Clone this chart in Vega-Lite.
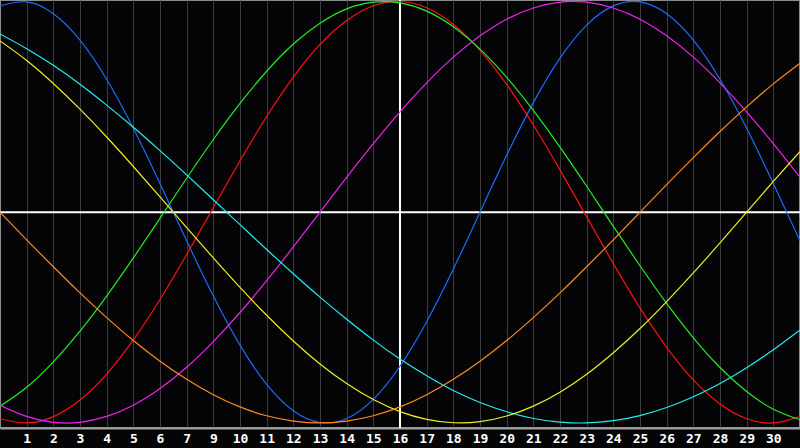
{
  "$schema": "https://vega.github.io/schema/vega-lite/v6.json",
  "width": 800,
  "height": 428,
  "autosize": {"type": "none"},
  "padding": {"left": 0, "top": 0, "right": 0, "bottom": 20},
  "background": "#050508",
  "datasets": {
    "cycles": [
      {"cycle": "physical", "x": 0, "value": 97.9}, {"cycle": "physical", "x": 1, "value": 99.8}, {"cycle": "physical", "x": 2, "value": 94.2}, {"cycle": "physical", "x": 3, "value": 81.7}, {"cycle": "physical", "x": 4, "value": 63.1}, {"cycle": "physical", "x": 5, "value": 39.8}, {"cycle": "physical", "x": 6, "value": 13.6}, {"cycle": "physical", "x": 7, "value": -13.6}, {"cycle": "physical", "x": 8, "value": -39.8}, {"cycle": "physical", "x": 9, "value": -63.1}, {"cycle": "physical", "x": 10, "value": -81.7}, {"cycle": "physical", "x": 11, "value": -94.2}, {"cycle": "physical", "x": 12, "value": -99.8}, {"cycle": "physical", "x": 13, "value": -97.9}, {"cycle": "physical", "x": 14, "value": -88.8}, {"cycle": "physical", "x": 15, "value": -73.1}, {"cycle": "physical", "x": 16, "value": -52.0}, {"cycle": "physical", "x": 17, "value": -27.0}, {"cycle": "physical", "x": 18, "value": 0}, {"cycle": "physical", "x": 19, "value": 27.0}, {"cycle": "physical", "x": 20, "value": 52.0}, {"cycle": "physical", "x": 21, "value": 73.1}, {"cycle": "physical", "x": 22, "value": 88.8}, {"cycle": "physical", "x": 23, "value": 97.9}, {"cycle": "physical", "x": 24, "value": 99.8}, {"cycle": "physical", "x": 25, "value": 94.2}, {"cycle": "physical", "x": 26, "value": 81.7}, {"cycle": "physical", "x": 27, "value": 63.1}, {"cycle": "physical", "x": 28, "value": 39.8}, {"cycle": "physical", "x": 29, "value": 13.6}, {"cycle": "physical", "x": 30, "value": -13.6},
      {"cycle": "emotional", "x": 0, "value": -98.0}, {"cycle": "emotional", "x": 1, "value": -100.0}, {"cycle": "emotional", "x": 2, "value": -97.0}, {"cycle": "emotional", "x": 3, "value": -89.1}, {"cycle": "emotional", "x": 4, "value": -76.8}, {"cycle": "emotional", "x": 5, "value": -60.6}, {"cycle": "emotional", "x": 6, "value": -41.4}, {"cycle": "emotional", "x": 7, "value": -20.1}, {"cycle": "emotional", "x": 8, "value": 2.2}, {"cycle": "emotional", "x": 9, "value": 24.4}, {"cycle": "emotional", "x": 10, "value": 45.4}, {"cycle": "emotional", "x": 11, "value": 64.1}, {"cycle": "emotional", "x": 12, "value": 79.6}, {"cycle": "emotional", "x": 13, "value": 91.0}, {"cycle": "emotional", "x": 14, "value": 98.0}, {"cycle": "emotional", "x": 15, "value": 100.0}, {"cycle": "emotional", "x": 16, "value": 97.0}, {"cycle": "emotional", "x": 17, "value": 89.1}, {"cycle": "emotional", "x": 18, "value": 76.8}, {"cycle": "emotional", "x": 19, "value": 60.6}, {"cycle": "emotional", "x": 20, "value": 41.4}, {"cycle": "emotional", "x": 21, "value": 20.1}, {"cycle": "emotional", "x": 22, "value": -2.2}, {"cycle": "emotional", "x": 23, "value": -24.4}, {"cycle": "emotional", "x": 24, "value": -45.4}, {"cycle": "emotional", "x": 25, "value": -64.1}, {"cycle": "emotional", "x": 26, "value": -79.6}, {"cycle": "emotional", "x": 27, "value": -91.0}, {"cycle": "emotional", "x": 28, "value": -98.0}, {"cycle": "emotional", "x": 29, "value": -100.0}, {"cycle": "emotional", "x": 30, "value": -97.0},
      {"cycle": "intellectual", "x": 0, "value": -92.1}, {"cycle": "intellectual", "x": 1, "value": -83.1}, {"cycle": "intellectual", "x": 2, "value": -71.0}, {"cycle": "intellectual", "x": 3, "value": -56.4}, {"cycle": "intellectual", "x": 4, "value": -39.8}, {"cycle": "intellectual", "x": 5, "value": -21.7}, {"cycle": "intellectual", "x": 6, "value": -2.9}, {"cycle": "intellectual", "x": 7, "value": 16.1}, {"cycle": "intellectual", "x": 8, "value": 34.5}, {"cycle": "intellectual", "x": 9, "value": 51.6}, {"cycle": "intellectual", "x": 10, "value": 66.9}, {"cycle": "intellectual", "x": 11, "value": 79.8}, {"cycle": "intellectual", "x": 12, "value": 89.7}, {"cycle": "intellectual", "x": 13, "value": 96.5}, {"cycle": "intellectual", "x": 14, "value": 99.7}, {"cycle": "intellectual", "x": 15, "value": 99.3}, {"cycle": "intellectual", "x": 16, "value": 95.4}, {"cycle": "intellectual", "x": 17, "value": 88.0}, {"cycle": "intellectual", "x": 18, "value": 77.4}, {"cycle": "intellectual", "x": 19, "value": 64.0}, {"cycle": "intellectual", "x": 20, "value": 48.3}, {"cycle": "intellectual", "x": 21, "value": 30.9}, {"cycle": "intellectual", "x": 22, "value": 12.3}, {"cycle": "intellectual", "x": 23, "value": -6.7}, {"cycle": "intellectual", "x": 24, "value": -25.4}, {"cycle": "intellectual", "x": 25, "value": -43.3}, {"cycle": "intellectual", "x": 26, "value": -59.6}, {"cycle": "intellectual", "x": 27, "value": -73.7}, {"cycle": "intellectual", "x": 28, "value": -85.1}, {"cycle": "intellectual", "x": 29, "value": -93.5}, {"cycle": "intellectual", "x": 30, "value": -98.5},
      {"cycle": "intuitive", "x": 0, "value": -91.6}, {"cycle": "intuitive", "x": 1, "value": -96.9}, {"cycle": "intuitive", "x": 2, "value": -99.7}, {"cycle": "intuitive", "x": 3, "value": -99.7}, {"cycle": "intuitive", "x": 4, "value": -96.9}, {"cycle": "intuitive", "x": 5, "value": -91.6}, {"cycle": "intuitive", "x": 6, "value": -83.7}, {"cycle": "intuitive", "x": 7, "value": -73.6}, {"cycle": "intuitive", "x": 8, "value": -61.4}, {"cycle": "intuitive", "x": 9, "value": -47.6}, {"cycle": "intuitive", "x": 10, "value": -32.5}, {"cycle": "intuitive", "x": 11, "value": -16.5}, {"cycle": "intuitive", "x": 12, "value": 0}, {"cycle": "intuitive", "x": 13, "value": 16.5}, {"cycle": "intuitive", "x": 14, "value": 32.5}, {"cycle": "intuitive", "x": 15, "value": 47.6}, {"cycle": "intuitive", "x": 16, "value": 61.4}, {"cycle": "intuitive", "x": 17, "value": 73.6}, {"cycle": "intuitive", "x": 18, "value": 83.7}, {"cycle": "intuitive", "x": 19, "value": 91.6}, {"cycle": "intuitive", "x": 20, "value": 96.9}, {"cycle": "intuitive", "x": 21, "value": 99.7}, {"cycle": "intuitive", "x": 22, "value": 99.7}, {"cycle": "intuitive", "x": 23, "value": 96.9}, {"cycle": "intuitive", "x": 24, "value": 91.6}, {"cycle": "intuitive", "x": 25, "value": 83.7}, {"cycle": "intuitive", "x": 26, "value": 73.6}, {"cycle": "intuitive", "x": 27, "value": 61.4}, {"cycle": "intuitive", "x": 28, "value": 47.6}, {"cycle": "intuitive", "x": 29, "value": 32.5}, {"cycle": "intuitive", "x": 30, "value": 16.5},
      {"cycle": "spiritual", "x": 0, "value": 84.6}, {"cycle": "spiritual", "x": 1, "value": 77.6}, {"cycle": "spiritual", "x": 2, "value": 69.7}, {"cycle": "spiritual", "x": 3, "value": 60.7}, {"cycle": "spiritual", "x": 4, "value": 50.8}, {"cycle": "spiritual", "x": 5, "value": 40.3}, {"cycle": "spiritual", "x": 6, "value": 29.2}, {"cycle": "spiritual", "x": 7, "value": 17.7}, {"cycle": "spiritual", "x": 8, "value": 5.9}, {"cycle": "spiritual", "x": 9, "value": -5.9}, {"cycle": "spiritual", "x": 10, "value": -17.7}, {"cycle": "spiritual", "x": 11, "value": -29.2}, {"cycle": "spiritual", "x": 12, "value": -40.3}, {"cycle": "spiritual", "x": 13, "value": -50.8}, {"cycle": "spiritual", "x": 14, "value": -60.7}, {"cycle": "spiritual", "x": 15, "value": -69.7}, {"cycle": "spiritual", "x": 16, "value": -77.6}, {"cycle": "spiritual", "x": 17, "value": -84.6}, {"cycle": "spiritual", "x": 18, "value": -90.3}, {"cycle": "spiritual", "x": 19, "value": -94.7}, {"cycle": "spiritual", "x": 20, "value": -97.9}, {"cycle": "spiritual", "x": 21, "value": -99.6}, {"cycle": "spiritual", "x": 22, "value": -100.0}, {"cycle": "spiritual", "x": 23, "value": -98.9}, {"cycle": "spiritual", "x": 24, "value": -96.5}, {"cycle": "spiritual", "x": 25, "value": -92.7}, {"cycle": "spiritual", "x": 26, "value": -87.6}, {"cycle": "spiritual", "x": 27, "value": -81.3}, {"cycle": "spiritual", "x": 28, "value": -73.8}, {"cycle": "spiritual", "x": 29, "value": -65.3}, {"cycle": "spiritual", "x": 30, "value": -55.9},
      {"cycle": "aesthetic", "x": 0, "value": 81.3}, {"cycle": "aesthetic", "x": 1, "value": 72.0}, {"cycle": "aesthetic", "x": 2, "value": 61.1}, {"cycle": "aesthetic", "x": 3, "value": 48.9}, {"cycle": "aesthetic", "x": 4, "value": 35.7}, {"cycle": "aesthetic", "x": 5, "value": 21.7}, {"cycle": "aesthetic", "x": 6, "value": 7.3}, {"cycle": "aesthetic", "x": 7, "value": -7.3}, {"cycle": "aesthetic", "x": 8, "value": -21.7}, {"cycle": "aesthetic", "x": 9, "value": -35.7}, {"cycle": "aesthetic", "x": 10, "value": -48.9}, {"cycle": "aesthetic", "x": 11, "value": -61.1}, {"cycle": "aesthetic", "x": 12, "value": -72.0}, {"cycle": "aesthetic", "x": 13, "value": -81.3}, {"cycle": "aesthetic", "x": 14, "value": -88.9}, {"cycle": "aesthetic", "x": 15, "value": -94.6}, {"cycle": "aesthetic", "x": 16, "value": -98.3}, {"cycle": "aesthetic", "x": 17, "value": -99.9}, {"cycle": "aesthetic", "x": 18, "value": -99.4}, {"cycle": "aesthetic", "x": 19, "value": -96.7}, {"cycle": "aesthetic", "x": 20, "value": -92.0}, {"cycle": "aesthetic", "x": 21, "value": -85.4}, {"cycle": "aesthetic", "x": 22, "value": -76.9}, {"cycle": "aesthetic", "x": 23, "value": -66.7}, {"cycle": "aesthetic", "x": 24, "value": -55.2}, {"cycle": "aesthetic", "x": 25, "value": -42.4}, {"cycle": "aesthetic", "x": 26, "value": -28.8}, {"cycle": "aesthetic", "x": 27, "value": -14.6}, {"cycle": "aesthetic", "x": 28, "value": 0}, {"cycle": "aesthetic", "x": 29, "value": 14.6}, {"cycle": "aesthetic", "x": 30, "value": 28.8},
      {"cycle": "awareness", "x": 0, "value": 0}, {"cycle": "awareness", "x": 1, "value": -13.1}, {"cycle": "awareness", "x": 2, "value": -25.9}, {"cycle": "awareness", "x": 3, "value": -38.3}, {"cycle": "awareness", "x": 4, "value": -50.0}, {"cycle": "awareness", "x": 5, "value": -60.9}, {"cycle": "awareness", "x": 6, "value": -70.7}, {"cycle": "awareness", "x": 7, "value": -79.3}, {"cycle": "awareness", "x": 8, "value": -86.6}, {"cycle": "awareness", "x": 9, "value": -92.4}, {"cycle": "awareness", "x": 10, "value": -96.6}, {"cycle": "awareness", "x": 11, "value": -99.1}, {"cycle": "awareness", "x": 12, "value": -100.0}, {"cycle": "awareness", "x": 13, "value": -99.1}, {"cycle": "awareness", "x": 14, "value": -96.6}, {"cycle": "awareness", "x": 15, "value": -92.4}, {"cycle": "awareness", "x": 16, "value": -86.6}, {"cycle": "awareness", "x": 17, "value": -79.3}, {"cycle": "awareness", "x": 18, "value": -70.7}, {"cycle": "awareness", "x": 19, "value": -60.9}, {"cycle": "awareness", "x": 20, "value": -50.0}, {"cycle": "awareness", "x": 21, "value": -38.3}, {"cycle": "awareness", "x": 22, "value": -25.9}, {"cycle": "awareness", "x": 23, "value": -13.1}, {"cycle": "awareness", "x": 24, "value": 0}, {"cycle": "awareness", "x": 25, "value": 13.1}, {"cycle": "awareness", "x": 26, "value": 25.9}, {"cycle": "awareness", "x": 27, "value": 38.3}, {"cycle": "awareness", "x": 28, "value": 50.0}, {"cycle": "awareness", "x": 29, "value": 60.9}, {"cycle": "awareness", "x": 30, "value": 70.7}
    ]
  },
  "layer": [
    {
      "data": {"values": [{"level": 0}]},
      "mark": {"type": "rule", "color": "#ffffff", "strokeWidth": 2},
      "encoding": {
        "y": {"field": "level", "type": "quantitative", "scale": {"domain": [-102.4, 100.7], "nice": false, "zero": false}, "axis": null}
      }
    },
    {
      "data": {"values": [{"today": 15}]},
      "mark": {"type": "rule", "color": "#ffffff", "strokeWidth": 2},
      "encoding": {
        "x": {"field": "today", "type": "quantitative"}
      }
    },
    {
      "data": {"name": "cycles"},
      "mark": {"type": "line", "strokeWidth": 1.2, "interpolate": "natural", "clip": true},
      "encoding": {
        "x": {
          "field": "x",
          "type": "quantitative",
          "scale": {"domain": [0, 30], "nice": false, "zero": false},
          "axis": {
            "values": [1, 2, 3, 4, 5, 6, 7, 8, 9, 10, 11, 12, 13, 14, 15, 16, 17, 18, 19, 20, 21, 22, 23, 24, 25, 26, 27, 28, 29],
            "tickCount": 40,
            "labelExpr": "'' + (datum.value < 8 ? datum.value : datum.value + 1)",
            "title": null,
            "grid": true,
            "gridColor": "#3c3c3c",
            "gridWidth": 1,
            "ticks": false,
            "domainColor": "#a0a0a0",
            "domainWidth": 2,
            "labelColor": "#ffffff",
            "labelFont": "DejaVu Sans Mono",
            "labelFontWeight": "bold",
            "labelFontSize": 13,
            "labelPadding": 4,
            "labelOverlap": false
          }
        },
        "y": {"field": "value", "type": "quantitative"},
        "color": {
          "field": "cycle",
          "type": "nominal",
          "scale": {
            "domain": ["physical", "emotional", "intellectual", "intuitive", "spiritual", "aesthetic", "awareness"],
            "range": ["#1a6cff", "#ff1010", "#22ee22", "#ee22ee", "#22eeee", "#eeee22", "#ff8a1a"]
          },
          "legend": null
        }
      }
    }
  ],
  "config": {
    "view": {"stroke": "#8c8c8c", "strokeWidth": 2, "fill": "#050508"}
  }
}
